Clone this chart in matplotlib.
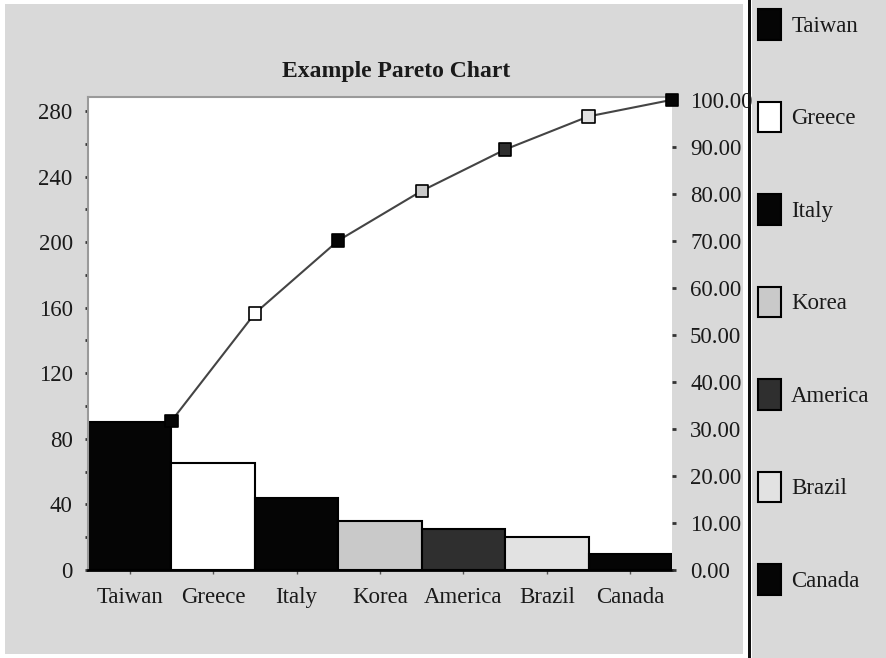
import numpy as np
import matplotlib
matplotlib.use('Agg')
import matplotlib.pyplot as plt
from matplotlib.patches import Patch, Rectangle

# 数据
countries = ['Taiwan', 'Greece', 'Italy', 'Korea', 'America', 'Brazil', 'Canada']
values = [90, 65, 44, 30, 25, 20, 10]
colors = ['#050505', '#ffffff', '#050505', '#c9c9c9', '#2f2f2f', '#e2e2e2', '#050505']
left_ticks = [0, 40, 80, 120, 160, 200, 240, 280]
right_ticks = [0, 10, 20, 30, 40, 50, 60, 70, 80, 90, 100]

cum_pct = np.cumsum(values) / np.sum(values) * 100

plt.rcParams['font.family'] = ['Liberation Serif', 'DejaVu Serif']
bg = '#d9d9d9'
txt = '#1a1a1a'
fs = 16.5

fig = plt.figure(figsize=(8.86, 6.58), dpi=100, facecolor='white')
W, H = 886, 658

# 背景面板
fig.patches.append(Rectangle((5 / W, 4 / H), 738 / W, 650 / H, transform=fig.transFigure,
                             facecolor=bg, edgecolor='none', zorder=-10))
fig.patches.append(Rectangle((752 / W, 0), 134 / W, 1, transform=fig.transFigure,
                             facecolor=bg, edgecolor='none', zorder=-10))
fig.patches.append(Rectangle((748 / W, 0), 3 / W, 1, transform=fig.transFigure,
                             facecolor='#111111', edgecolor='none', zorder=-9))

ax = fig.add_axes([88 / W, (H - 570) / H, 584 / W, 473 / H])
ax.set_facecolor('white')
x = np.arange(len(countries))
ax.bar(x, values, width=1.0, color=colors, edgecolor='black', linewidth=1.5, zorder=2)
ax.set_xlim(-0.5, len(countries) - 0.5)
ax.set_ylim(0, 288.5)
ax.set_yticks(left_ticks)
ax.set_yticks(np.arange(20, 280, 40), minor=True)
ax.set_xticks(x)
ax.set_xticklabels(countries)
ax.tick_params(axis='y', which='both', length=2, width=2, color='#333333', pad=9,
               labelsize=fs, labelcolor=txt)
ax.tick_params(axis='x', length=3, width=1, color='#555555', pad=9,
               labelsize=fs, labelcolor=txt)
for s in ['left', 'top']:
    ax.spines[s].set_color('#9a9a9a')
    ax.spines[s].set_linewidth(1.5)
ax.spines['right'].set_visible(False)
ax.spines['bottom'].set_color('black')
ax.spines['bottom'].set_linewidth(2)

ax2 = ax.twinx()
ax2.set_ylim(0, 100.6)
ax2.set_yticks(right_ticks)
ax2.set_yticklabels(['%.2f' % t for t in right_ticks])
ax2.tick_params(axis='y', length=3, width=2, color='#333333', pad=10,
                labelsize=fs, labelcolor=txt)
for s in ['left', 'top', 'right', 'bottom']:
    ax2.spines[s].set_visible(False)
ax2.plot(x + 0.5, cum_pct, color='#444444', linewidth=1.5, zorder=3, clip_on=False)
ax2.scatter(x + 0.5, cum_pct, marker='s', s=80, c=colors, edgecolors='black',
            linewidths=1.2, zorder=4, clip_on=False)

fig.text(396 / W, 1 - 71 / H, 'Example Pareto Chart', ha='center', va='center',
         fontsize=17, fontweight='bold', color=txt)

# 图例
handles = [Patch(facecolor=c, edgecolor='black', linewidth=1.5) for c in colors]
fig.legend(handles, countries, loc='upper left', bbox_to_anchor=(758 / W, 1 - 9 / H),
           frameon=False, fontsize=fs, handlelength=1.0, handleheight=1.68,
           handletextpad=0.45, labelspacing=2.7, borderpad=0, borderaxespad=0,
           labelcolor=txt)

fig.savefig('out.png', dpi=100, facecolor='white')
